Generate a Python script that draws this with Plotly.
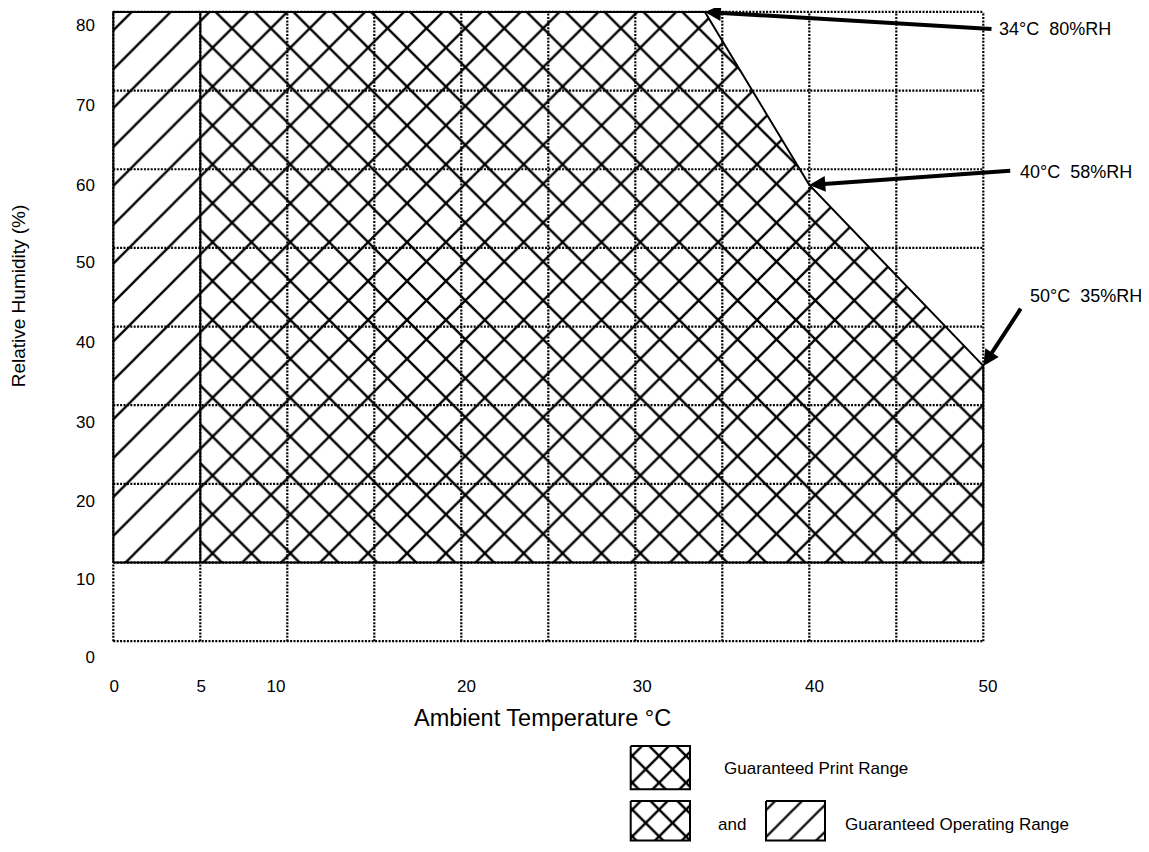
import plotly.graph_objects as go

# ---------------- data ----------------
# Guaranteed Print Range boundary (temperature °C, humidity %RH)
print_temp = [5, 34, 40, 50, 50, 5]
print_rh = [80, 80, 58, 35, 10, 10]
# Operating-only strip (0-5 °C)
oper_temp = [0, 5, 5, 0]
oper_rh = [10, 10, 80, 80]
# Outer boundary of operating range
outer_temp = [0, 0, 34, 40, 50, 50, 0]
outer_rh = [10, 80, 80, 58, 35, 10, 10]

grid_temps = [0, 5, 10, 15, 20, 25, 30, 35, 40, 45, 50]
grid_rhs = [0, 10, 20, 30, 40, 50, 60, 70, 80]

xtick_text = ["0", "5", "10", "20", "30", "40", "50"]
xtick_pos = [0.05, 5.05, 9.35, 20.3, 30.4, 40.3, 50.27]
ytick_text = ["0", "10", "20", "30", "40", "50", "60", "70", "80"]
ytick_pos = [-2.0, 7.95, 17.85, 27.85, 38.0, 48.15, 58.05, 68.2, 78.35]

callout_points = [(34, 80), (40, 58), (50, 35)]
callout_labels = ["34°C\u00a0\u00a080%RH", "40°C\u00a0\u00a058%RH", "50°C\u00a0\u00a035%RH"]

# ---------------- layout geometry ----------------
PAGE_W, PAGE_H = 1149, 852
OFF = 8  # default body margin of the page
W, H = PAGE_W - OFF, PAGE_H - 2 * OFF   # keep the page free of scrollbars
FONT = "Liberation Sans, Arial, sans-serif"

x_rng = [-1, 51]
y_rng = [-3, 80.4]
PX_PER_X = 17.4
PX_PER_Y = 7.884
X0_PAGE = 113.3   # page pixel of temperature 0
Y0_PAGE = 642.7   # page pixel of humidity 0

left_fig = X0_PAGE - OFF + x_rng[0] * PX_PER_X
right_fig = X0_PAGE - OFF + x_rng[1] * PX_PER_X
bottom_fig = Y0_PAGE - OFF - y_rng[0] * PX_PER_Y
top_fig = Y0_PAGE - OFF - y_rng[1] * PX_PER_Y
x_dom = [left_fig / W, right_fig / W]
y_dom = [1 - bottom_fig / H, 1 - top_fig / H]


def px_x(v):
    return X0_PAGE + v * PX_PER_X


def px_y(v):
    return Y0_PAGE - v * PX_PER_Y


def paper_x(px):
    return (px - OFF) / W


def paper_y(py):
    return 1 - (py - OFF) / H


fig = go.Figure()

# dotted grid
gx, gy = [], []
for t in grid_temps:
    gx += [t, t, None]
    gy += [grid_rhs[0], grid_rhs[-1], None]
for r in grid_rhs:
    gx += [grid_temps[0], grid_temps[-1], None]
    gy += [r, r, None]
fig.add_trace(go.Scatter(x=gx, y=gy, mode="lines",
                         line=dict(color="black", width=2.2, dash="2px,1.4px"),
                         hoverinfo="skip", showlegend=False))

# operating-only hatch
fig.add_trace(go.Scatter(x=oper_temp, y=oper_rh, mode="none", fill="toself",
                         fillcolor="rgba(0,0,0,0)",
                         fillpattern=dict(shape="/", size=27.5, solidity=0.085, fgopacity=1,
                                          fgcolor="black", bgcolor="rgba(0,0,0,0)"),
                         hoverinfo="skip", showlegend=False))
# print range crosshatch
fig.add_trace(go.Scatter(x=print_temp, y=print_rh, mode="none", fill="toself",
                         fillcolor="rgba(0,0,0,0)",
                         fillpattern=dict(shape="x", size=27.5, solidity=0.165, fgopacity=1,
                                          fgcolor="black", bgcolor="rgba(0,0,0,0)"),
                         hoverinfo="skip", showlegend=False))
# boundaries
fig.add_trace(go.Scatter(x=outer_temp, y=outer_rh, mode="lines",
                         line=dict(color="black", width=2),
                         hoverinfo="skip", showlegend=False))
fig.add_trace(go.Scatter(x=[print_temp[0], print_temp[0]], y=[print_rh[-1], print_rh[0]],
                         mode="lines", line=dict(color="black", width=2),
                         hoverinfo="skip", showlegend=False))

# ---------------- legend (page-pixel axes) ----------------
def box(x0, x1, y0, y1):
    return [x0, x1, x1, x0, x0], [y0, y0, y1, y1, y0]


leg_boxes = [
    (box(630.7, 690, 747.7, 791), "x", 0.24),
    (box(630.7, 690, 803, 842.5), "x", 0.24),
    (box(766, 825, 803, 842.5), "/", 0.12),
]
for (bx, by), shp, sol in leg_boxes:
    fig.add_trace(go.Scatter(x=bx, y=by, mode="lines", fill="toself",
                             fillcolor="rgba(0,0,0,0)",
                             fillpattern=dict(shape=shp, size=19, solidity=sol, fgopacity=1,
                                              fgcolor="black", bgcolor="rgba(0,0,0,0)"),
                             line=dict(color="black", width=2),
                             xaxis="x2", yaxis="y2",
                             hoverinfo="skip", showlegend=False))

annotations = []
# callout arrows
tails_px = [(993, 29), (1011.7, 171), (1021.7, 308)]
text_px = [(997, 29), (1018, 172.7), (1028, 296.7)]
for (hx, hy), (tx, ty), (lx, ly), lab in zip(callout_points, tails_px, text_px, callout_labels):
    annotations.append(dict(x=hx, y=hy, xref="x", yref="y", text="", showarrow=True,
                            ax=tx - px_x(hx), ay=ty - px_y(hy), axref="pixel", ayref="pixel",
                            arrowhead=2, arrowsize=0.8, arrowwidth=4, arrowcolor="black",
                            standoff=0, startstandoff=0))
    annotations.append(dict(x=paper_x(lx), y=paper_y(ly), xref="paper", yref="paper", text=lab,
                            showarrow=False, xanchor="left", yanchor="middle",
                            font=dict(family=FONT, size=18, color="black")))

# axis titles
annotations.append(dict(x=paper_x(542), y=paper_y(720), xref="paper", yref="paper",
                        text="Ambient Temperature °C", showarrow=False,
                        xanchor="center", yanchor="middle",
                        font=dict(family=FONT, size=23.5, color="black")))
annotations.append(dict(x=paper_x(18), y=paper_y(297), xref="paper", yref="paper",
                        text="Relative Humidity (%)", showarrow=False, textangle=-90,
                        xanchor="center", yanchor="middle",
                        font=dict(family=FONT, size=19, color="black")))
# legend texts
annotations.append(dict(x=paper_x(721.7), y=paper_y(770.5), xref="paper", yref="paper",
                        text="Guaranteed Print Range", showarrow=False,
                        xanchor="left", yanchor="middle",
                        font=dict(family=FONT, size=17, color="black")))
annotations.append(dict(x=paper_x(731.7), y=paper_y(826), xref="paper", yref="paper",
                        text="and", showarrow=False,
                        xanchor="center", yanchor="middle",
                        font=dict(family=FONT, size=17, color="black")))
annotations.append(dict(x=paper_x(843), y=paper_y(826), xref="paper", yref="paper",
                        text="Guaranteed Operating Range", showarrow=False,
                        xanchor="left", yanchor="middle",
                        font=dict(family=FONT, size=17, color="black")))

leg_dom_y = 0.2
fig.update_layout(
    width=W, height=H,
    margin=dict(l=0, r=0, t=0, b=0),
    paper_bgcolor="white", plot_bgcolor="rgba(0,0,0,0)",
    font=dict(family=FONT, size=17, color="black"),
    xaxis=dict(domain=x_dom, range=x_rng, showgrid=False, zeroline=False, showline=False,
               ticks="", tickmode="array", tickvals=xtick_pos, ticktext=xtick_text,
               tickfont=dict(family=FONT, size=17, color="black"),
               ticklabelstandoff=9, fixedrange=True),
    yaxis=dict(domain=y_dom, range=y_rng, showgrid=False, zeroline=False, showline=False,
               ticks="", tickmode="array", tickvals=ytick_pos, ticktext=ytick_text,
               tickfont=dict(family=FONT, size=17, color="black"),
               ticklabelstandoff=0, fixedrange=True),
    xaxis2=dict(domain=[0.5, 1.0], range=[OFF + 0.5 * W, OFF + W], visible=False,
                fixedrange=True, anchor="y2"),
    yaxis2=dict(domain=[0.0, leg_dom_y], range=[OFF + H, OFF + H * (1 - leg_dom_y)],
                visible=False, fixedrange=True, anchor="x2"),
    annotations=annotations,
    showlegend=False,
)

fig.write_html("out.html")
